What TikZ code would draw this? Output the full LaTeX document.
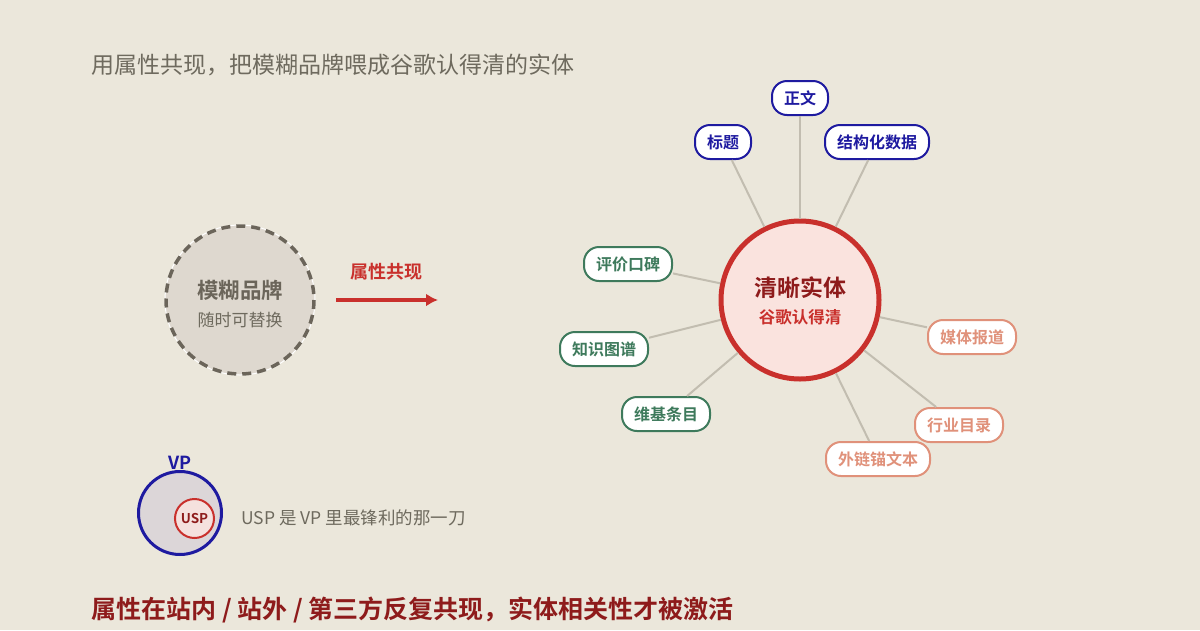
\documentclass[tikz,border=0pt]{standalone}
\usepackage{fontspec}
\setmainfont{Noto Sans CJK SC}[BoldFont={Noto Sans CJK SC Bold}]
\usetikzlibrary{arrows.meta}
\definecolor{bg}{HTML}{EBE7DB}
\definecolor{inkgray}{HTML}{6E6A5E}
\definecolor{fogfill}{HTML}{DED8CF}
\definecolor{fogline}{HTML}{6B655A}
\definecolor{brandred}{HTML}{C9302C}
\definecolor{darkred}{HTML}{8E1B1B}
\definecolor{entityfill}{HTML}{FAE3DE}
\definecolor{onsite}{HTML}{1E1AA0}
\definecolor{kgreen}{HTML}{3E7A5C}
\definecolor{offsite}{HTML}{E0917A}
\definecolor{spoke}{HTML}{C2BDB0}
\definecolor{vpfill}{HTML}{DCD6D8}
\definecolor{uspfill}{HTML}{F5E1DE}
\begin{document}
\begin{tikzpicture}[x=1pt,y=-1pt,
	pill/.style={draw=#1,text=#1,fill=white,line width=2pt,rounded corners=15pt,
		minimum height=34pt,inner xsep=12pt,font=\fontsize{16}{18}\selectfont\bfseries},
	spokeline/.style={draw=spoke,line width=2pt}]
	\fill[bg] (0,0) rectangle (1200,630);
	\useasboundingbox (0,0) rectangle (1200,630);

	\node[anchor=west,text=inkgray,font=\fontsize{23}{28}\selectfont] (title) at (88,65) {用属性共现，把模糊品牌喂成谷歌认得清的实体};

	% fuzzy brand
	\node[circle,fill=fogfill,draw=white,line width=1pt,minimum size=150pt] (fuzzy) at (240,300) {};
	\draw[fogline,line width=3.5pt,dash pattern=on 9pt off 6pt] (240,300) circle (74);
	\node[text=fogline,font=\fontsize{21.5}{24}\selectfont\bfseries] (fuzzyname) at (240,290) {模糊品牌};
	\node[text=inkgray,font=\fontsize{17}{20}\selectfont] (fuzzysub) at (240,320) {随时可替换};

	\coordinate (arrowstart) at (336,300);
	\coordinate (arrowend) at (438,300);
	\draw[brandred,line width=4pt,-{Latex[length=12pt,width=13pt]}] (arrowstart) -- (arrowend);
	\node[text=brandred,font=\fontsize{18}{20}\selectfont\bfseries] (cooccur) at (386,272) {属性共现};

	% clear entity
	\node[circle,draw=brandred,fill=entityfill,line width=5pt,minimum size=158pt] (entity) at (800,300) {};
	\node[text=darkred,font=\fontsize{23}{26}\selectfont\bfseries] (entityname) at (800,288) {清晰实体};
	\node[text=brandred,font=\fontsize{16.5}{19}\selectfont\bfseries] (entitysub) at (800,317) {谷歌认得清};

	\node[pill=onsite] (body) at (800,98) {正文};
	\node[pill=onsite] (heading) at (723,142) {标题};
	\node[pill=onsite] (schema) at (877,142) {结构化数据};
	\node[pill=kgreen] (reviews) at (628,264) {评价口碑};
	\node[pill=kgreen] (kgraph) at (604,349) {知识图谱};
	\node[pill=kgreen] (wiki) at (666,414) {维基条目};
	\node[pill=offsite] (press) at (972,337) {媒体报道};
	\node[pill=offsite] (directory) at (959,425) {行业目录};
	\node[pill=offsite] (anchor) at (878,459) {外链锚文本};

	\foreach \sat in {body,heading,schema,reviews,kgraph,wiki,press,directory,anchor}
		\draw[spokeline] (entity) -- (\sat);

	% VP and USP
	\node[circle,draw=onsite,fill=vpfill,line width=3pt,minimum size=83pt] (vp) at (180,513) {};
	\node[text=onsite,font=\fontsize{18}{20}\selectfont\bfseries] (vplabel) at (180,463) {VP};
	\node[circle,draw=brandred,fill=uspfill,line width=2pt,minimum size=39pt,inner sep=0pt,
		text=darkred,font=\fontsize{13.5}{15}\selectfont\bfseries] (usp) at (194.5,518.5) {USP};
	\node[anchor=west,text=inkgray,font=\fontsize{17.5}{20}\selectfont] (uspnote) at (238,518) {USP 是 VP 里最锋利的那一刀};

	\node[anchor=west,text=darkred,font=\fontsize{25}{28}\selectfont\bfseries] (takeaway) at (88,610) {属性在站内 / 站外 / 第三方反复共现，实体相关性才被激活};
\end{tikzpicture}
\end{document}
